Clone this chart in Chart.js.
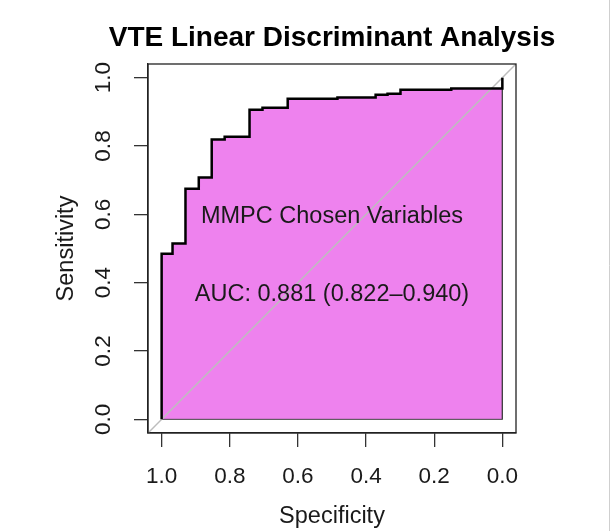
<!DOCTYPE html>
<html>
<head>
<meta charset="utf-8">
<script src="https://cdn.jsdelivr.net/npm/chart.js@4.4.1/dist/chart.umd.min.js"></script>
<style>
  html, body { margin: 0; padding: 0; background: #fff; }
  #wrap { width: 612px; height: 531px; }
</style>
</head>
<body>
<div id="wrap"><canvas id="roc" width="612" height="531"></canvas></div>
<script>
// ROC curve points (specificity, sensitivity)
const specificity = [1, 1, 0.968, 0.968, 0.930, 0.930, 0.891, 0.891, 0.853, 0.853, 0.815, 0.815,
  0.742, 0.742, 0.704, 0.704, 0.630, 0.630, 0.484, 0.484, 0.372, 0.372, 0.337, 0.337,
  0.299, 0.299, 0.150, 0.150, 0, 0];
const sensitivity = [0, 0.485, 0.485, 0.515, 0.515, 0.675, 0.675, 0.708, 0.708, 0.819, 0.819, 0.827,
  0.827, 0.906, 0.906, 0.912, 0.912, 0.938, 0.938, 0.942, 0.942, 0.950, 0.950, 0.953,
  0.953, 0.965, 0.965, 0.968, 0.968, 1];

const tickValues = [1.0, 0.8, 0.6, 0.4, 0.2, 0.0];
const tickLabels = ['1.0', '0.8', '0.6', '0.4', '0.2', '0.0'];

const titleText = 'VTE Linear Discriminant Analysis';
const xTitle = 'Specificity';
const yTitle = 'Sensitivity';
const noteText = 'MMPC Chosen Variables';
const aucText = 'AUC: 0.881 (0.822\u20130.940)';

const AXIS_MIN = -0.04, AXIS_MAX = 1.04;
const FONT = '"Liberation Sans", Arial, Helvetica, sans-serif';

const curve = specificity.map((s, i) => ({ x: s, y: sensitivity[i] }));
const xLo = Math.min(...specificity), xHi = Math.max(...specificity);
const yLo = Math.min(...sensitivity), yHi = Math.max(...sensitivity);
const outline = [{ x: xLo, y: yHi }, { x: xLo, y: yLo }, { x: xHi, y: yLo }];
// identity line sens = 1 - spec across the whole plot box
const diagonal = [AXIS_MAX, AXIS_MIN].map(s => ({ x: s, y: 1 - s }));

// box, tick labels, titles, annotations (R base graphics look)
const rStyle = {
  id: 'rStyle',
  afterDraw(chart) {
    const { ctx, chartArea: a, scales: { x, y } } = chart;
    ctx.save();
    ctx.strokeStyle = '#222';
    ctx.lineWidth = 1.3;
    ctx.strokeRect(a.left, a.top, a.right - a.left, a.bottom - a.top);

    // faint frame on the right edge of the picture
    ctx.strokeStyle = '#cfcfcf';
    ctx.lineWidth = 1;
    ctx.beginPath();
    ctx.moveTo(chart.width - 2.5, 0);
    ctx.lineTo(chart.width - 2.5, chart.height);
    ctx.stroke();

    ctx.fillStyle = '#1a1a1a';
    ctx.textAlign = 'center';
    ctx.textBaseline = 'middle';
    ctx.font = '22.5px ' + FONT;
    x.ticks.forEach(t => {
      ctx.fillText(tickLabels[tickValues.indexOf(t.value)], x.getPixelForValue(t.value), a.bottom + 44);
    });
    y.ticks.forEach(t => {
      ctx.save();
      ctx.translate(a.left - 44, y.getPixelForValue(t.value));
      ctx.rotate(-Math.PI / 2);
      ctx.fillText(tickLabels[tickValues.indexOf(t.value)], 0, 0);
      ctx.restore();
    });

    ctx.font = '23.5px ' + FONT;
    ctx.fillText(xTitle, (a.left + a.right) / 2, a.bottom + 84);
    ctx.save();
    ctx.translate(a.left - 81, (a.top + a.bottom) / 2);
    ctx.rotate(-Math.PI / 2);
    ctx.fillText(yTitle, 0, 0);
    ctx.restore();

    ctx.fillStyle = '#000';
    ctx.font = 'bold 28px ' + FONT;
    ctx.fillText(titleText, (a.left + a.right) / 2, a.top - 26);

    ctx.fillStyle = '#1a1a1a';
    ctx.font = '23.5px ' + FONT;
    ctx.fillText(noteText, x.getPixelForValue(0.5), y.getPixelForValue(0.595));
    ctx.fillText(aucText, x.getPixelForValue(0.5), y.getPixelForValue(0.365));
    ctx.restore();
  }
};

const fixedTicks = scale => { scale.ticks = tickValues.map(v => ({ value: v })); };

new Chart(document.getElementById('roc'), {
  type: 'line',
  data: {
    datasets: [
      { data: curve, borderColor: '#000', borderWidth: 2.5, pointRadius: 0, fill: false },
      { data: diagonal, borderColor: '#bdbdbd', borderWidth: 1.5, pointRadius: 0, fill: false },
      { data: outline, borderColor: '#444', borderWidth: 1, pointRadius: 0, fill: false },
      { data: curve, borderColor: 'rgba(0,0,0,0)', borderWidth: 0, pointRadius: 0,
        fill: 'origin', backgroundColor: '#ee82ee' }
    ]
  },
  options: {
    responsive: false,
    animation: false,
    layout: { padding: { left: 134, top: 64, right: 96, bottom: 84 } },
    plugins: { legend: { display: false }, tooltip: { enabled: false } },
    elements: { line: { tension: 0 } },
    scales: {
      x: {
        type: 'linear', reverse: true, min: AXIS_MIN, max: AXIS_MAX,
        afterBuildTicks: fixedTicks,
        ticks: { display: false },
        grid: { drawOnChartArea: false, drawTicks: true, tickLength: 14, color: '#333', lineWidth: 1.3 },
        border: { display: true, color: '#222', width: 1.3 }
      },
      y: {
        type: 'linear', min: AXIS_MIN, max: AXIS_MAX,
        afterBuildTicks: fixedTicks,
        ticks: { display: false },
        grid: { drawOnChartArea: false, drawTicks: true, tickLength: 14, color: '#333', lineWidth: 1.3 },
        border: { display: true, color: '#222', width: 1.3 }
      }
    }
  },
  plugins: [rStyle]
});
</script>
</body>
</html>
